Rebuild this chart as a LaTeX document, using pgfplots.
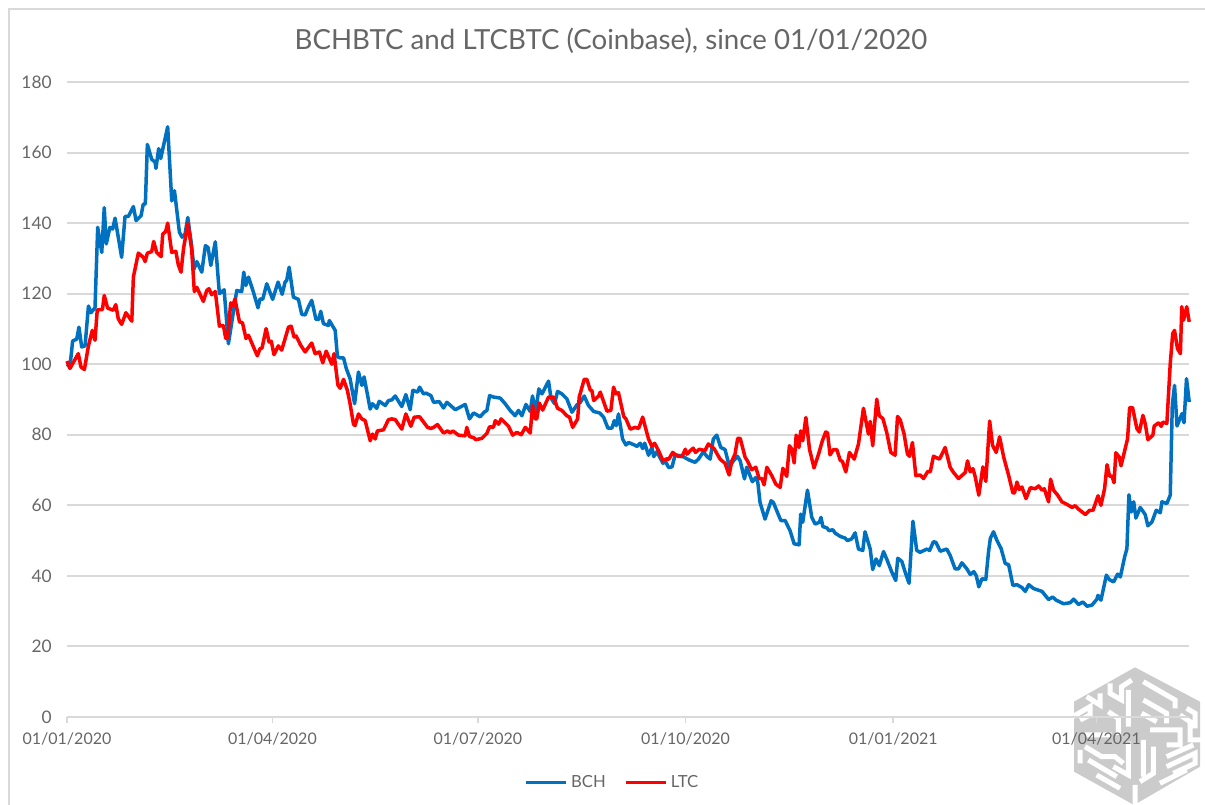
\documentclass[border=0pt]{standalone}
\usepackage{pgfplots}
\pgfplotsset{compat=1.18}
\usepackage{pgfplotstable}
\usepackage{fontspec}
\setmainfont{Lato}
\definecolor{txt}{HTML}{666666}
\definecolor{gridc}{HTML}{D9D9D9}
\definecolor{bch}{HTML}{0070C0}
\definecolor{ltc}{HTML}{FF0000}
\definecolor{wm}{HTML}{CBCBCB}
\pgfplotstableread{
day val
0 100
1.3 99.2
2.5 106.6
4.3 107.1
5.3 110.5
6.5 104.9
8 105.2
9.5 116.5
10.6 114.6
12.4 116
13.6 138.8
15.4 131.7
16.5 144.4
17.4 134.1
19 138.8
20.2 138.3
21.3 141.4
24.2 130.3
25.7 141.9
27.2 141.9
29.4 144.7
30.6 140.7
32.8 142.1
33.8 145.4
34.7 145.4
35.6 162.3
37.5 158.1
39 157.3
39.4 155.5
40.6 161.1
41.5 158.3
44.6 167.3
46.4 146.3
47.6 149.2
49.8 137.4
51 136
52.3 136.9
53.5 141.6
55 134.6
56.3 127
57.5 129.1
59.7 126.1
61.3 133.6
62.5 133.1
63.7 128
65.7 134.7
67.5 120
69.6 121.1
71.5 105.8
73.7 114.8
75.2 120.9
77.4 120.6
78.3 126.1
79.2 122.3
80.4 124.7
82.6 120.4
84.6 116
85.5 118.5
86.7 118.4
88.5 122.8
91.1 118.4
93.5 123.3
95.3 119.8
96.6 123.3
97.3 123.7
98.4 127.5
100.3 119
102.5 118.4
104 114.1
105.5 114
106.9 116.2
108.4 118.1
110.3 112.7
111.5 112.7
112.4 115
113.6 111.5
115.8 111
116.2 112.4
118.8 109.6
119.8 102.1
121 101.8
122.5 101.8
123.7 98.8
125.4 95.9
127.4 88.8
129.1 97.8
130.6 94
131.6 96.4
134.3 87.3
135.3 88.8
137.2 87.5
138.3 89.5
141 88.3
142.4 89.7
143.9 89.9
145.4 91
148.3 88
150.1 91.4
152 87.1
153.2 92.6
155.3 92.1
156.2 93.5
157.9 91.6
159.1 91.8
161.2 91.1
162.4 89.2
164.9 89.4
166.8 87.6
168.3 89.2
172 87.1
176.4 88.6
178.3 84.5
180.1 86.2
183 85.1
184.8 86.4
186 86.9
187.2 91.1
188.9 90.7
191.9 90.4
194.1 88.8
196.3 86.9
198.5 85.4
200 86.9
201.5 85.4
203.3 88.6
205.2 86.6
206.2 91
207.6 86.4
209 93
210.4 91.6
213.3 95.2
214.4 90.4
216 88.8
217.3 92.3
219.2 91.6
221.4 90.2
223.7 86.4
225.9 88.5
227.4 89.2
229.1 91
231 88.3
233.3 86.6
235.9 86.2
237.7 85
239.6 81.9
241.4 81.9
242.4 84
243.3 82.6
244.3 85.9
246.1 78.8
247.6 77.1
248.8 77.8
251.7 77
252.5 76.7
253.9 77.6
255 76.1
255.9 77.6
257.6 74.2
259.1 76.4
259.9 73.8
261.3 75.2
264 71.9
265 72.6
266.5 70.7
268 70.9
269.4 74.3
272.4 74
275.4 72.9
278.2 72.2
279.7 73.1
281.9 75.2
283.4 73.9
284.9 73.1
286.3 78.8
287.8 79.9
289.6 76.4
291.5 75.8
293.4 71
295.2 72.6
297 73.9
298.2 72.6
300.1 67.5
301.1 70.8
303.6 66.7
305.1 67.9
306 66.5
307 60.8
309.2 56.1
311.9 61.3
312.9 60.8
314.7 58
316.2 55.7
318.1 55.7
320.3 52.8
322.1 49.1
324.3 48.8
325 57.5
325.9 55.2
328 64.3
329.9 56.6
331.4 54.7
333.3 55.2
334 56.6
334.8 54
336.6 53.6
337.6 52.8
339.2 53.1
340.3 52.1
342.5 51.2
344.7 50.7
345.7 50
347.6 50.5
349.1 52.2
350.6 47.6
352.5 47.2
353.5 52.5
355.8 47.6
356.9 41.8
358.4 44.8
359.8 42.9
361.7 46.9
363.4 44.3
365.4 41
367.1 38.7
368 45
369.8 44.1
371.3 41
373 37.9
374.7 55.5
376.4 47.2
377.9 46.7
380.9 47.6
382.1 47.2
383.8 49.7
384.9 49.5
386.8 47
389.7 47.6
391.2 45.8
393.4 42
394.9 42
396.4 43.7
398.6 42
400.1 40.4
401.7 41.2
402.8 40
403.9 36.9
405.3 39.2
407 39
408.2 46.8
409 50.6
410.4 52.5
411.9 50.1
413.8 47.7
415.6 43.5
417.1 43.2
419 37.3
420.8 37.5
423 36.7
424.5 35.6
426 37.5
428.2 36.4
431.9 35.6
434.8 33.3
436.6 34
438.2 33.1
441.5 32.1
444.4 32.4
445.9 33.4
448.1 31.9
450 32.6
451.8 31.4
454 31.7
456.2 33.4
456.7 34.5
458 33.1
460.4 40.2
461.8 38.9
463.6 38.3
465.4 40.5
466.6 39.7
468.5 45.4
469.5 47.7
470.4 63
471.4 58.1
472.5 61
473.5 56.4
475.4 59.4
477.6 57.4
478.8 54.2
480.6 55.3
482.5 58.6
484.3 57.9
485 61
487.2 60.5
488.7 62.9
489.6 88.4
490.6 94
491.7 82.5
493.9 86
494.8 83.4
495.9 95.9
497.1 89.3
}\bchdata
\pgfplotstableread{
day val
0 100.9
1.3 98.8
5 103
6.2 99.2
7.7 98.5
9.5 105.2
11.2 109.6
12.4 106.8
13.4 115.4
15.7 115.5
16.5 119.5
18 115.9
20.5 115.3
21.6 116.9
22.7 112.9
24.2 111.3
26.1 114.6
28.7 112.2
29.4 124.7
31.6 131.5
33.8 130.3
34.6 129.1
35.6 131.5
37.5 131.9
38.4 134.8
39.7 131.7
41.7 130.5
42.4 136.9
43.7 137.6
44.6 140
46.4 131.7
48.2 132
49.3 128.2
50.5 126.1
51.6 132.7
53.5 139.9
55.2 132.7
56.4 120.6
57.5 121.8
60.4 117.8
61.9 120.9
62.9 121.4
64.1 119.7
65.7 120.6
67.5 110.8
69.3 111
70.3 107.3
71.2 107.3
72.5 117.4
73.4 116.5
74.4 118.5
76.4 112
77.7 111.8
79.3 107.3
80.4 108.2
82.6 104.9
84.3 102.4
85.5 104.4
86.4 104.6
88.2 110.1
89.5 106.3
90.5 106.5
91.7 102.7
93.6 105.2
95.1 104
98.1 110.5
99.3 110.8
100.6 107.7
101.5 108
103.5 105.4
105.5 103.5
108.4 106
109.9 103
111.8 103.5
113.3 100.4
114.8 103.7
117.3 100
118.3 103
120 94.1
121 93.2
122.5 95.7
124.2 92.6
125.4 88.8
126.9 83
127.6 82.6
129.1 85.9
130.6 84.5
132.1 84
134.3 78.3
135.3 80.2
136.5 78.8
137.5 81.1
140.2 81.4
142.4 84.3
143.9 84.5
145.4 84.3
148.3 81.6
150.1 85.9
152.3 82.4
153.8 85
156.2 85.1
159.7 82.1
161.2 81.8
162.4 82.1
164.1 82.9
166.8 80.5
168.6 81.1
169.7 80.5
170.9 81.1
173.4 79.9
176.4 79.7
177.1 82.1
178.3 79.5
180.1 79.2
181.1 78.6
183.8 79
186 80.4
187.2 82.3
188.9 82.1
189.7 84
191.2 83
192.3 84.5
195.6 82.4
197.4 79.9
199.3 80.7
201.2 80
203 82.1
205.2 80.5
206.2 88.3
207.4 84.5
208.1 84.5
209.2 89
210.7 87
213.3 90.7
215.5 90.7
217.3 87.5
219.2 86.9
221.4 85.4
222.6 85
224 82.1
226.2 84.5
226.9 90.7
229.1 95.7
230.3 95.7
231.8 92.6
232.5 92.6
233.3 89.7
235.5 91
236.2 92.1
239.2 86.7
240.9 86.9
242.1 93.5
243.2 91.6
244.3 91.9
246.6 85.2
247.6 84.5
249.5 81.6
251.7 82.1
253.2 81.8
255 85
257.6 78.8
259.1 76.7
260.3 77.6
262.1 75.4
264 72.6
265.8 73.2
266.5 73
268.3 75
270.2 74
272.4 73.8
273.9 75.9
274.6 74.5
276.1 75.5
277.4 76.2
278.4 75
280.1 75.9
282.6 75.5
284.1 77.4
286.6 76.1
289.3 73.1
291.5 71.9
293.3 68.6
294.5 72.6
295.9 74.5
297.1 79
298.2 79
300.4 73.6
301.4 72.6
303.3 70.1
305.1 70.8
306.6 67.6
307.8 67.6
308.8 65.8
310 70.8
312.2 68.4
314 66
315.9 65.1
317.1 70.5
318.8 68.2
320 76.9
321.1 75.9
322.1 72
323 79.9
324.2 76.4
325 81.1
325.9 78.3
327.3 84.9
328.9 75.9
330.9 70.6
332.9 74.5
334.6 78.3
336.1 80.8
336.9 80.5
338 74.3
339.5 75.8
341 75.8
342.5 72.8
343.5 72.4
345 69.5
346.6 75
348.7 73.1
350.6 77.4
352.8 87.5
355 80.2
355.8 83.8
356.9 76.9
358.7 90.1
359.8 85.4
361.4 84.6
363.1 80.7
364.9 75
366.8 74.2
367.9 85.2
369.1 84.2
370.8 80.2
372.3 74.5
373.2 73.9
374.5 77.8
376 68.4
377.9 68.6
379.4 67.6
381.3 69.6
382.4 69.5
383.8 73.9
386.5 73.1
389 76.4
391.2 70.8
392.7 69.3
394.9 67.6
397.9 69.3
398.9 72.6
400.1 69.5
401.3 70.4
402.3 68.1
403.9 62.9
405.7 70.9
407 66.8
408.7 83.9
410 77
411.6 75
413.1 79.4
414.9 73.7
417.1 68.5
419 63.5
419.7 63.5
420.8 66.6
421.8 64.5
423 65.2
424.8 61.9
426.7 65
428.9 64.7
430.4 65.5
431.9 64.3
432.9 64.7
434.8 61
435.7 67.4
437 64.3
438.8 62.9
440.7 61
443.7 60
445.2 59.4
446.6 59.9
448.1 58.9
451.1 57.4
453 58.6
454.5 58.6
456.7 62.7
458 60
459.6 64.7
460.7 71.5
461.8 68.3
462.9 68.3
463.8 66.4
464.6 74.9
466.1 73.7
466.9 71.2
469.8 78.9
470.7 87.7
472 87.7
473.9 81.8
475 80.8
476.6 85.5
477.6 83.2
478.8 78.6
481 79.9
481.6 82.5
483.6 83.4
484.7 82.4
485.5 83.6
487.2 83.2
488.7 100.2
489.8 108.7
490.6 109.6
491.9 104.4
493.2 103
493.8 116.3
494.6 112.5
496 116.3
497.1 112
}\ltcdata
\begin{document}
\begin{tikzpicture}[x=0.6pt,y=0.6pt]
\path[use as bounding box] (0,0) rectangle (1205,805);
% outer frame, top and left sides only
\draw[gridc,line width=1.2pt] (9,0) -- (9,796) -- (1205,796);
% watermark logo
\begin{scope}[shift={(1060,145)},x=0.2pt,y=-0.2pt]
\fill[wm] (225,22) -- (420,125) -- (420,320) -- (222,435) -- (42,335) -- (42,125) -- cycle;
\draw[white,line width=3pt,line join=miter]
 (30,175) -- (90,140) -- (90,165) -- (60,180)
 (120,100) -- (120,135) -- (80,110)
 (150,70) -- (150,100) -- (185,120) -- (185,80) -- (215,60)
 (205,90) -- (205,200)
 (145,155) -- (175,175) -- (175,225)
 (250,65) -- (345,120) -- (345,145)
 (250,120) -- (320,160) -- (320,190)
 (245,160) -- (290,185)
 (380,145) -- (405,160) -- (405,205)
 (360,165) -- (390,185) -- (390,240) -- (430,240)
 (270,210) -- (360,210) -- (360,255) -- (320,255)
 (60,270) -- (60,310)
 (75,225) -- (155,225)
 (75,260) -- (125,290) -- (165,290) -- (190,310)
 (85,300) -- (170,350)
 (110,345) -- (180,385)
 (205,245) -- (205,345) -- (160,320)
 (250,240) -- (250,350)
 (280,260) -- (280,340) -- (240,365)
 (320,290) -- (400,255)
 (320,320) -- (405,280) -- (405,310) -- (340,340)
 (300,370) -- (380,330)
 (225,445) -- (225,375);
\end{scope}
\begin{axis}[
  at={(40.2pt,52.8pt)},anchor=south west,
  scale only axis,
  width=673.2pt,height=381pt,
  xmin=0,xmax=497,ymin=0,ymax=180,
  axis y line=left,axis x line=bottom,
  axis line style={gridc,line width=1.2pt,-},
  y axis line style={draw=none},
  xtick={0,91,182,274,366,456},
  xticklabels={01/01/2020,01/04/2020,01/07/2020,01/10/2020,01/01/2021,01/04/2021},
  ytick={0,20,40,60,80,100,120,140,160,180},
  ymajorgrids,
  grid style={gridc,line width=1.2pt},
  major tick length=3.5pt,
  tick align=outside,
  xtick style={gridc,line width=1pt},
  ytick style={draw=none},
  tick label style={text=txt},
  xticklabel style={yshift=-2.5pt,font=\fontsize{9.6}{11}\selectfont},
  yticklabel style={xshift=-2.2pt,font=\fontsize{10.4}{12}\selectfont},
  /pgf/number format/assume math mode=true,
  legend columns=2,
  legend style={at={(0.4866,-0.103)},anchor=center,draw=none,fill=none,
    font=\fontsize{10}{11}\selectfont,text=txt,
    /tikz/every even column/.append style={column sep=9pt},
    inner sep=0pt,row sep=0pt},
  legend image code/.code={\draw[#1,line width=2.1pt] (0,0) -- (24pt,0);},
  clip=false,
]
\addplot[bch,line width=2.1pt,line join=round] table[x=day,y=val]{\bchdata};
\addlegendentry{BCH}
\addplot[ltc,line width=2.1pt,line join=round] table[x=day,y=val]{\ltcdata};
\addlegendentry{LTC}
\end{axis}
\node[text=txt,font=\fontsize{16.6}{19}\selectfont,anchor=center] at (611,764) {BCHBTC and LTCBTC (Coinbase), since 01/01/2020};
\end{tikzpicture}
\end{document}
